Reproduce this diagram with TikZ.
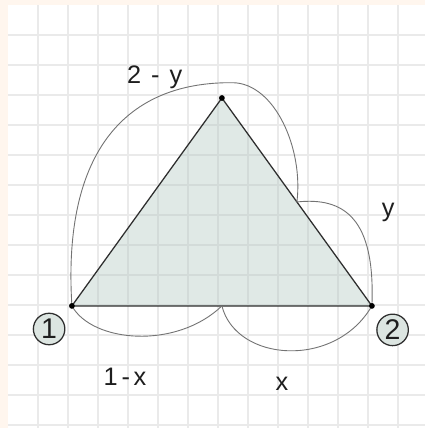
\documentclass[tikz,border=0pt]{standalone}
\usepackage{fontspec}
\setsansfont{Liberation Sans}
\usepackage{xcolor}
\usepackage{tikz}
\definecolor{PAPER}{HTML}{FFF6EE}
\definecolor{GRID}{HTML}{EAEAEA}
\definecolor{INK}{HTML}{1E1E1E}
\definecolor{EDGE}{HTML}{2E2E2E}
\definecolor{LOOP}{HTML}{737373}
\definecolor{SAGE}{HTML}{A9C0BA}
\definecolor{DISC}{HTML}{DCE5E1}

\begin{document}
\begin{tikzpicture}[
  font=\sffamily,
  gridline/.style={draw=GRID, line width=1.6pt},
  edge/.style={draw=EDGE, line width=1.2pt, line join=round},
  loopline/.style={draw=LOOP, line width=0.85pt},
  vertex/.style={circle, fill=black, inner sep=0pt, minimum size=5.5pt},
  port/.style={circle, fill=DISC, draw=EDGE, line width=1.2pt, inner sep=0pt, minimum size=1.05cm, font=\fontsize{27}{27}\selectfont\sffamily, text=INK},
  lab/.style={font=\fontsize{24}{24}\selectfont\sffamily, text=INK, anchor=base},
]

% paper and grid (1 cm = one square)
\useasboundingbox (-0.267,-0.1) rectangle (13.9,14.167);
\fill[PAPER] (-0.267,-0.1) rectangle (13.9,14.167);
\fill[white] (0,-0.1) rectangle (13.9,14);
\foreach \i in {1,...,13} { \draw[gridline] (\i,-0.1) -- (\i,14); }
\foreach \j in {0,...,13} { \draw[gridline] (0,\j) -- (13.9,\j); }

% corners, base midpoint, right side midpoint
\coordinate (p1) at (2.13,3.97);
\coordinate (p2) at (12.13,3.97);
\coordinate (p3) at (7.13,10.9);
\coordinate (mb) at (7.13,3.97);
\coordinate (mr) at (9.63,7.435);
\coordinate (crest) at (7.5,11.41);

% triangle
\fill[SAGE, fill opacity=0.35] (p1) -- (p2) -- (p3) -- cycle;
\draw[edge] (p1) -- (p2) -- (p3) -- cycle;

% loops
\draw[loopline] (p1) .. controls (1.8,9.2) and (4.0,11.45) .. (crest)
  .. controls (8.9,11.38) and (9.85,9.2) .. (mr);
\draw[loopline] (mr) .. controls (11.2,7.6) and (12.25,6.9) .. (p2);
\draw[loopline] (p1) .. controls (2.8,2.75) and (5.6,2.5) .. (mb);
\draw[loopline] (mb) .. controls (7.6,2.1) and (10.9,1.85) .. (p2);

\node[vertex] (d1) at (p1) {};
\node[vertex] (d2) at (p2) {};
\node[vertex] (d3) at (p3) {};

% labels
\node[lab] (top) at (4.89,11.39) {2\hspace{0.4em}-\hspace{0.4em}y};
\node[lab] (right) at (12.67,6.94) {y};
\node[lab] (left) at (3.9,1.33) {1\hspace{0.15em}-\hspace{0.15em}x};
\node[lab] (bottom) at (9.13,1.14) {x};

\node[port] (n1) at (1.37,3.2) {1};
\node[port] (n2) at (12.82,3.17) {2};

\end{tikzpicture}
\end{document}
